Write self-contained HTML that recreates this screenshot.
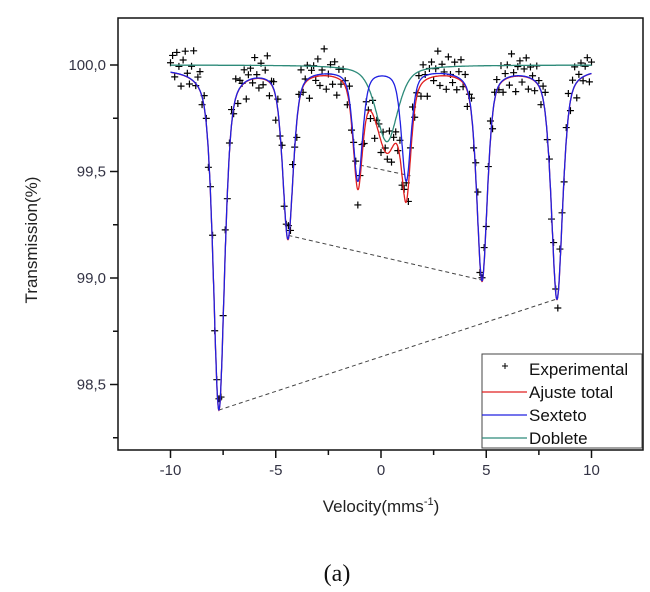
<!DOCTYPE html>
<html><head><meta charset="utf-8"><style>
body{margin:0;background:#fff;width:650px;height:592px;overflow:hidden;font-family:"Liberation Sans",sans-serif}
svg{position:absolute;left:0;top:0}
</style></head><body>
<svg id="c" width="650" height="592"></svg>
<script>
const xTicks=[-10,-5,0,5,10];
const xTickLabels=["-10","-5","0","5","10"];
const yTicks=[98.5,99.0,99.5,100.0];
const yTickLabels=["98,5","99,0","99,5","100,0"];
const sextetPos=[-7.7,-4.42,-1.1,1.2,4.8,8.36];
const sextetDepth=[1.6,0.79,0.52,0.52,0.99,1.08];
const sextetWidth=[0.32,0.3,0.27,0.27,0.3,0.32];
const doubletPos=[0.28];
const doubletDepth=[0.36];
const doubletWidth=[0.62];
const baseline=[99.985];
const doubletBase=[100.0];
const residuals=[0.05,0.09,-0.02,0.11,0.04,-0.06,0.08,0.13,0.02,-0.03,0.07,0.16,-0.01,0.05,0.1,-0.04,0.06,0.03,-0.08,0.04,
0.09,-0.05,0.02,0.06,-0.07,0.03,0.12,-0.02,0.05,0.08,-0.03,0.1,-0.06,0.04,0.01,0.07,-0.09,0.03,0.06,-0.02,
0.11,0.02,-0.05,0.08,-0.03,0.05,0.13,-0.07,0.02,0.04,-0.12,0.06,-0.02,0.09,-0.04,0.03,0.07,-0.06,0.1,0.01,
-0.08,0.05,0.12,-0.03,0.02,0.08,-0.1,0.04,0.06,-0.02,0.09,-0.05,0.03,0.14,-0.07,0.01,0.06,-0.04,0.08,-0.09,
0.05,-0.02,0.07,0.03,-0.06,0.1,-0.03,0.04,0.08,-0.08,0.02,0.06,-0.05,0.09,0.01,-0.04,0.07,-0.1,0.03,0.05,
-0.06,0.08,0.02,-0.03,0.11,-0.07,0.04,0.06,-0.02,0.09,-0.05,0.03,0.1,-0.08,0.05,0.12,-0.04,0.02,0.07,-0.06,
0.09,0.03,-0.09,0.05,0.08,-0.02,0.04,0.13,-0.05,0.06,0.02,-0.07,0.1,0.01,-0.03,0.08,-0.06,0.04,0.11,-0.02,
0.06,-0.08,0.03,0.09,-0.04,0.07,0.15,-0.05,0.02,0.08,-0.03,0.05,0.1,-0.07,0.04,0.06,-0.02,0.09,-0.06,0.03,
0.07,-0.04,0.12,0.02,-0.08,0.05,0.08,-0.03,0.04,0.1,-0.06,0.06,0.02,-0.05,0.09,0.03,-0.07,0.07,0.11,-0.02,
0.05,-0.04,0.08,0.02,-0.06,0.09,0.04,-0.03,0.07,0.12,-0.05,0.06,0.1,-0.08,0.03,0.08,-0.02,0.05,0.09,-0.04,0.06];
const dashFrom=[[-7.7,98.38],[-4.4,99.2],[-1.0,99.53]];
const dashTo=[[8.3,98.9],[4.8,98.99],[1.4,99.48]];

const L=118,R=643,T=18,B=450;
const X=v=>381+v*21.05;
const Y=v=>65+(100-v)*213;
const NS="http://www.w3.org/2000/svg";
const svg=document.getElementById('c');
function el(t,a,p){const e=document.createElementNS(NS,t);for(const k in a)e.setAttribute(k,a[k]);(p||svg).appendChild(e);return e;}
const ETA=0.55;
const lor=(x,p,d,w)=>{const u=(x-p)/w;return d*(ETA/(1+u*u)+(1-ETA)*Math.exp(-0.693*u*u));};
function sext(x){let s=baseline[0];for(let i=0;i<sextetPos.length;i++)s-=lor(x,sextetPos[i],sextetDepth[i],sextetWidth[i]);return s;}
function doub(x){let s=doubletBase[0];for(let i=0;i<doubletPos.length;i++)s-=lor(x,doubletPos[i],doubletDepth[i],doubletWidth[i]);return s;}
function tot(x){return sext(x)-(doubletBase[0]-doub(x));}

let f=el('rect',{x:L,y:T,width:R-L,height:B-T,fill:'none',stroke:'#111','stroke-width':1.5});

for(let v=-12.5;v<=12.5;v+=2.5){const x=X(v);if(x<L||x>R)continue;
 el('line',{x1:x,x2:x,y1:B,y2:B+(v%5===0?8:5),stroke:'#111','stroke-width':1.5});}
xTicks.forEach((v,i)=>{const t=el('text',{x:X(v),y:B+25,'text-anchor':'middle','font-size':15,fill:'#334'});t.textContent=xTickLabels[i];
 });
for(let v=98.25;v<=100.25;v+=0.25){const y=Y(v);if(y<T||y>B)continue;
 el('line',{x1:L,x2:L-(Math.abs(v*2-Math.round(v*2))<1e-6?8:5),y1:y,y2:y,stroke:'#111','stroke-width':1.5});}
yTicks.forEach((v,i)=>{const t=el('text',{x:L-12,y:Y(v)+5,'text-anchor':'end','font-size':15,fill:'#334'});t.textContent=yTickLabels[i];
 });
dashFrom.forEach((a,i)=>{const b=dashTo[i];const l=el('line',{x1:X(a[0]),y1:Y(a[1]),x2:X(b[0]),y2:Y(b[1]),stroke:'#444','stroke-width':1,'stroke-dasharray':'4,3'});
 });
const pts=el('g',{stroke:'#000','stroke-width':1.2});

residuals.forEach((r,i)=>{const v=-10+i*0.1;const x=X(v),y=Y(tot(v)+r*0.9);
 el('path',{d:`M${x-3.5},${y}H${x+3.5}M${x},${y-3.5}V${y+3.5}`},pts);});
function curve(fn,col,name){let d='';for(let v=-10;v<=10.001;v+=0.01)d+=(d?'L':'M')+X(v).toFixed(1)+','+Y(fn(v)).toFixed(1);
 const p=el('path',{d,fill:'none',stroke:col,'stroke-width':1.3});}
curve(doub,'#2e8b7a','doublet-curve');
curve(tot,'#e02020','total-fit-curve');
curve(sext,'#2020e0','sextet-curve');
const lg=el('g',{});
el('rect',{x:482,y:354,width:160,height:94,fill:'#fff',stroke:'#444','stroke-width':1},lg);
const ents=[['Experimental',null],['Ajuste total','#e02020'],['Sexteto','#2020e0'],['Doblete','#2e8b7a']];
ents.forEach((e,i)=>{const y=366+i*23;
 if(e[1])el('line',{x1:482,x2:527,y1:y+3,y2:y+3,stroke:e[1],'stroke-width':1.3},lg);
 else el('path',{d:`M${502},${y}H${508}M${505},${y-3}V${y+3}`,stroke:'#000','stroke-width':1},lg);
 const t=el('text',{x:529,y:y+9,'font-size':17,fill:'#111'},lg);t.textContent=e[0];
 });
let t=el('text',{x:381,y:512,'text-anchor':'middle','font-size':17,fill:'#222'});
t.innerHTML='Velocity(mms<tspan font-size="11" dy="-7">-1</tspan><tspan dy="7">)</tspan>';

t=el('text',{x:0,y:0,'text-anchor':'middle','font-size':17,fill:'#222',transform:'translate(37,240) rotate(-90)'});
t.textContent='Transmission(%)';
t=el('text',{x:337,y:581,'text-anchor':'middle','font-size':24,'font-family':'Liberation Serif, serif',fill:'#111'});
t.textContent='(a)';
</script>
</body></html>
